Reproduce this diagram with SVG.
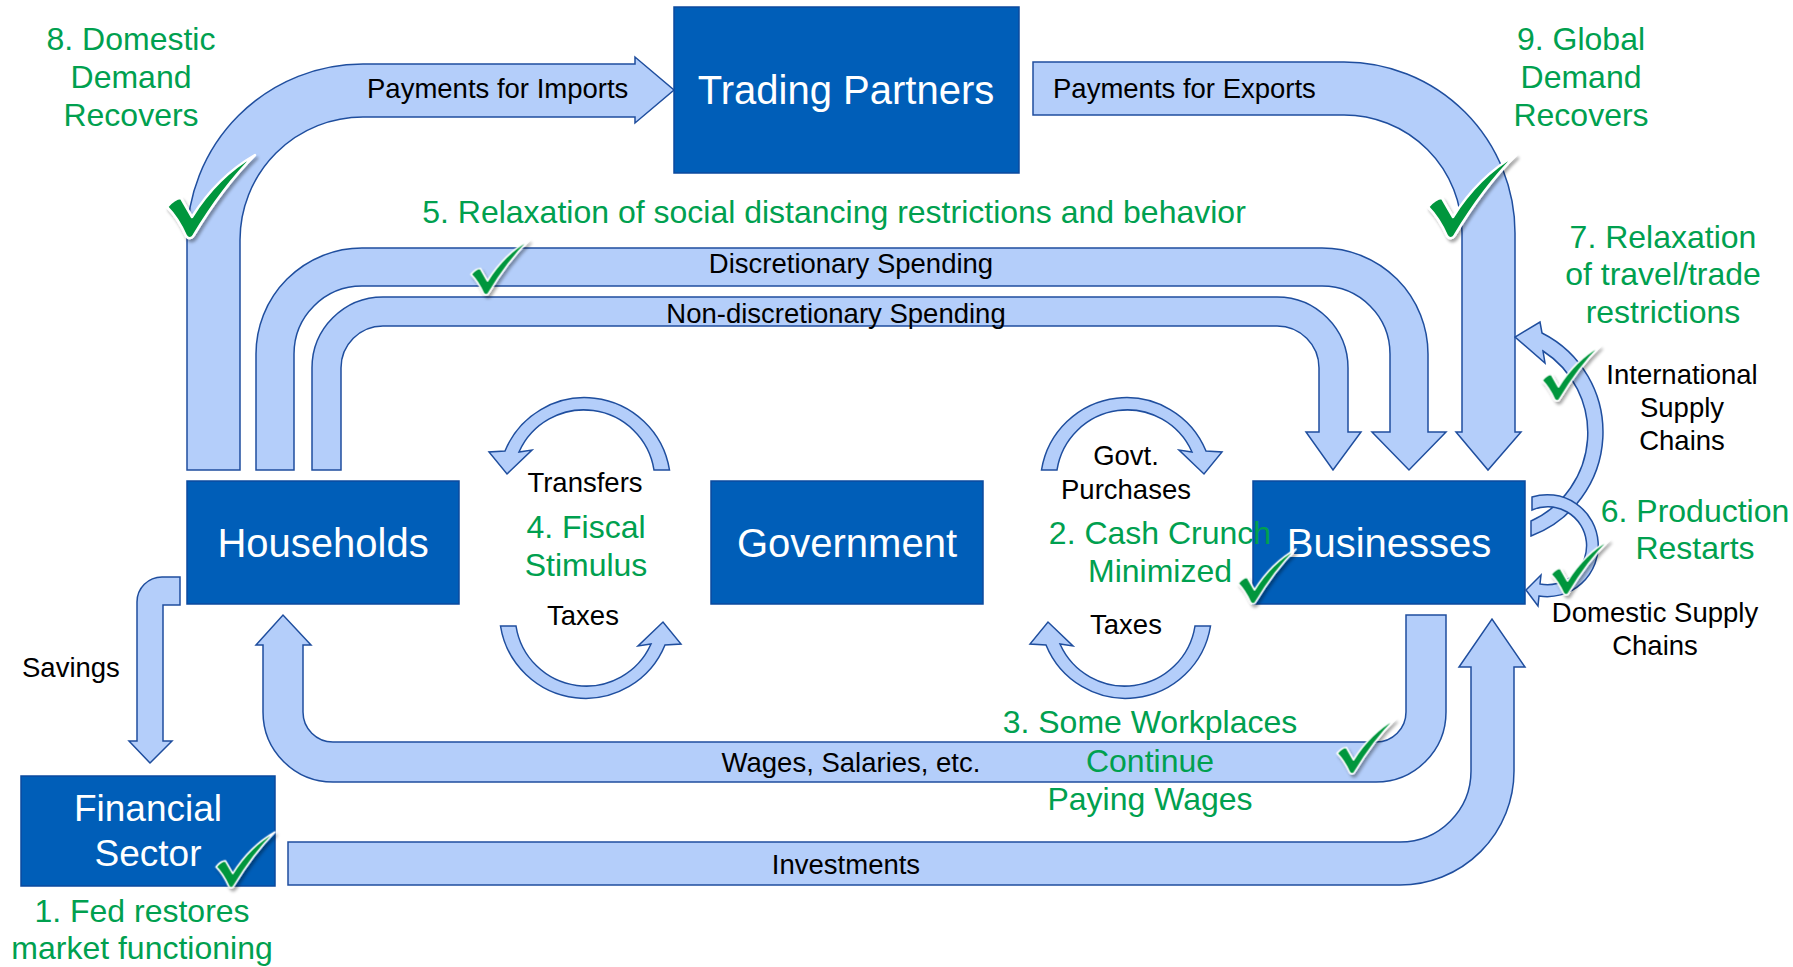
<svg xmlns="http://www.w3.org/2000/svg" xmlns:xlink="http://www.w3.org/1999/xlink" width="1793" height="967" viewBox="0 0 1793 967">
<style>
.arr{fill:#B4CEFA;stroke:#1F4E9E;stroke-width:1.5;stroke-linejoin:miter}
.box{fill:#005EB8;stroke:#0B4A9E;stroke-width:1.5}
.bl{font-family:"Liberation Sans",Arial,sans-serif;font-size:40px;fill:#fff;text-anchor:middle}
.lb{font-family:"Liberation Sans",Arial,sans-serif;font-size:27.5px;fill:#000}
.gr{font-family:"Liberation Sans",Arial,sans-serif;font-size:32px;fill:#00A04F;text-anchor:middle}
.m{text-anchor:middle}
</style>
<defs>
<filter id="sh" x="-20%" y="-20%" width="150%" height="150%">
<feDropShadow dx="2" dy="3" stdDeviation="1.5" flood-color="#000" flood-opacity="0.35"/>
</filter>
<g id="chk">
<path d="M0,52 C5,46 10,43 14,43 L25,62 C40,38 60,16 88,0 C68,20 48,45 27,80 C25,84 21,84 19,81 C14,70 8,60 0,52 Z" fill="#00963C" stroke="#fff" stroke-width="2.5" stroke-linejoin="round"/>
</g>
<path id="circ" d="M669.5,470 A86,86 0 0 0 505,451 L489,452 L507,474 L532,450 L519,452 A71,71 0 0 1 654,470 Z"/>
</defs>
<rect width="1793" height="967" fill="#fff"/>

<g id="connectors">
<path id="imports" class="arr" d="M187,470 L187,240 A176,176 0 0 1 363,64 L635,64 L635,57 L674,90 L635,123 L635,117 L363,117 A123,123 0 0 0 240,240 L240,470 Z"/>
<path id="exports" class="arr" d="M1033,62 L1344,62 A171,171 0 0 1 1515,233 L1515,432 L1521,432 L1488,470 L1456,432 L1462,432 L1462,233 A118,118 0 0 0 1344,115 L1033,115 Z"/>
<path id="discretionary" class="arr" d="M256,470 L256,354 A106,106 0 0 1 362,248 L1322,248 A106,106 0 0 1 1428,354 L1428,432 L1446,432 L1409,470 L1372,432 L1390,432 L1390,354 A68,68 0 0 0 1322,286 L362,286 A68,68 0 0 0 294,354 L294,470 Z"/>
<path id="nondiscretionary" class="arr" d="M312,470 L312,368 A71,71 0 0 1 383,297 L1277,297 A71,71 0 0 1 1348,368 L1348,432 L1361,432 L1333,470 L1306,432 L1319,432 L1319,368 A42,42 0 0 0 1277,326 L383,326 A42,42 0 0 0 341,368 L341,470 Z"/>
<path id="wages" class="arr" d="M1406,615 L1446,615 L1446,712 A70,70 0 0 1 1376,782 L333,782 A70,70 0 0 1 263,712 L263,645 L256,645 L283,615 L311,645 L303,645 L303,712 A30,30 0 0 0 333,742 L1376,742 A30,30 0 0 0 1406,712 Z"/>
<path id="investments" class="arr" d="M288,842 L1400,842 A71,71 0 0 0 1471,771 L1471,667 L1459,667 L1492,619 L1525,667 L1514,667 L1514,771 A114,114 0 0 1 1400,885 L288,885 Z"/>
<path id="savings" class="arr" d="M180,577 L162,577 A25,25 0 0 0 137,602 L137,741 L129,741 L150,763 L172,741 L163,741 L163,605 L180,605 Z"/>
<use id="transfers" class="arr" xlink:href="#circ" href="#circ"/>
<use id="taxesLeft" class="arr" xlink:href="#circ" href="#circ" transform="rotate(180 585 548)"/>
<use id="govtPurchases" class="arr" xlink:href="#circ" href="#circ" transform="matrix(-1 0 0 1 1711 0)"/>
<use id="taxesRight" class="arr" xlink:href="#circ" href="#circ" transform="matrix(1 0 0 -1 541 1096)"/>
<path id="intlSupply" class="arr" d="M1531,536 A111,111 0 0 0 1542,333 L1540,322 L1515,337 L1545,363 L1543,351 A97,97 0 0 1 1531,521 Z"/>
<path id="domSupply" class="arr" d="M1532,497 A51,51 0 1 1 1539,596 L1538,606 L1526,590 L1541,575 L1540,584 A39,39 0 1 0 1532,510 Z"/>
</g>

<g id="connector-labels">
<text class="lb" x="367" y="98">Payments for Imports</text>
<text class="lb" x="1053" y="98">Payments for Exports</text>
<text class="lb m" x="851" y="273">Discretionary Spending</text>
<text class="lb m" x="836" y="323">Non-discretionary Spending</text>
<text class="lb m" x="585" y="492">Transfers</text>
<text class="lb m" x="583" y="625">Taxes</text>
<text class="lb m" x="1126" y="465">Govt.</text>
<text class="lb m" x="1126" y="499">Purchases</text>
<text class="lb m" x="1126" y="634">Taxes</text>
<text class="lb m" x="1682" y="384">International</text>
<text class="lb m" x="1682" y="417">Supply</text>
<text class="lb m" x="1682" y="450">Chains</text>
<text class="lb m" x="1655" y="622">Domestic Supply</text>
<text class="lb m" x="1655" y="655">Chains</text>
<text class="lb" x="22" y="677">Savings</text>
<text class="lb m" x="851" y="772">Wages, Salaries, etc.</text>
<text class="lb m" x="846" y="874">Investments</text>
</g>

<g id="trading-partners">
<rect class="box" x="674" y="7" width="345" height="166"/>
<text class="bl" x="846" y="104">Trading Partners</text>
</g>
<g id="households">
<rect class="box" x="187" y="481" width="272" height="123"/>
<text class="bl" x="323" y="557">Households</text>
</g>
<g id="government">
<rect class="box" x="711" y="481" width="272" height="123"/>
<text class="bl" x="847" y="557">Government</text>
</g>
<g id="businesses">
<rect class="box" x="1253" y="481" width="272" height="123"/>
<text class="bl" x="1389" y="557">Businesses</text>
</g>
<g id="financial-sector">
<rect class="box" x="21" y="776" width="254" height="110"/>
<text class="bl" x="148" y="821" style="font-size:37px">Financial</text>
<text class="bl" x="148" y="866" style="font-size:37px">Sector</text>
</g>

<g id="annotations">
<text class="gr" x="131" y="50">8. Domestic</text>
<text class="gr" x="131" y="88">Demand</text>
<text class="gr" x="131" y="126">Recovers</text>
<text class="gr" x="1581" y="50">9. Global</text>
<text class="gr" x="1581" y="88">Demand</text>
<text class="gr" x="1581" y="126">Recovers</text>
<text class="gr" x="834" y="223">5. Relaxation of social distancing restrictions and behavior</text>
<text class="gr" x="1663" y="248">7. Relaxation</text>
<text class="gr" x="1663" y="285">of travel/trade</text>
<text class="gr" x="1663" y="323">restrictions</text>
<text class="gr" x="586" y="538">4. Fiscal</text>
<text class="gr" x="586" y="576">Stimulus</text>
<text class="gr" x="1160" y="544">2. Cash Crunch</text>
<text class="gr" x="1160" y="582">Minimized</text>
<text class="gr" x="1695" y="522">6. Production</text>
<text class="gr" x="1695" y="559">Restarts</text>
<text class="gr" x="1150" y="733">3. Some Workplaces</text>
<text class="gr" x="1150" y="772">Continue</text>
<text class="gr" x="1150" y="810">Paying Wages</text>
<text class="gr" x="142" y="922">1. Fed restores</text>
<text class="gr" x="142" y="959">market functioning</text>
</g>

<g id="checkmarks" filter="url(#sh)">
<use xlink:href="#chk" href="#chk" transform="translate(167,155)"/>
<use xlink:href="#chk" href="#chk" transform="translate(1428,155)"/>
<use xlink:href="#chk" href="#chk" transform="translate(471,240) scale(0.66)"/>
<use xlink:href="#chk" href="#chk" transform="translate(1542,346) scale(0.66)"/>
<use xlink:href="#chk" href="#chk" transform="translate(1551,540) scale(0.66)"/>
<use xlink:href="#chk" href="#chk" transform="translate(1238,549) scale(0.66)"/>
<use xlink:href="#chk" href="#chk" transform="translate(1337,719) scale(0.66)"/>
<use xlink:href="#chk" href="#chk" transform="translate(216,832) scale(0.67)"/>
</g>
</svg>
